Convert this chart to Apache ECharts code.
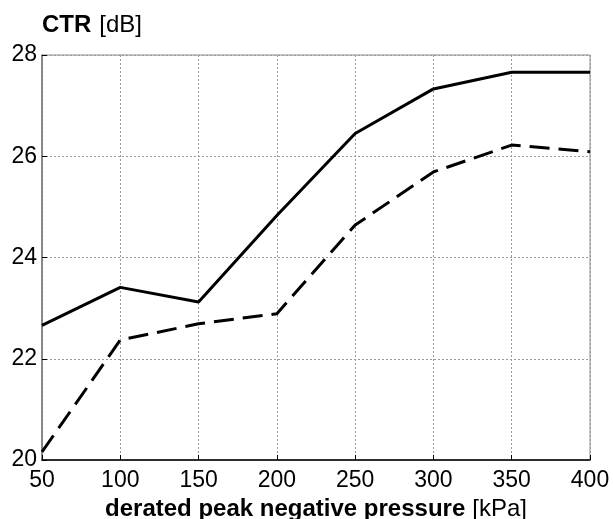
<!DOCTYPE html>
<html>
<head>
<meta charset="utf-8">
<script src="https://cdn.jsdelivr.net/npm/echarts@6/dist/echarts.min.js"></script>
<style>
  html, body { margin: 0; padding: 0; background: #fff; }
  #chart { width: 613px; height: 519px; }
</style>
</head>
<body>
<div id="chart"></div>
<script>
// pressure steps [kPa]
var pressure = [50, 100, 150, 200, 250, 300, 350, 400];
// CTR [dB], solid curve and dashed curve
var ctrSolid  = [22.66, 23.41, 23.12, 24.83, 26.45, 27.33, 27.66, 27.66];
var ctrDashed = [20.16, 22.37, 22.69, 22.89, 24.64, 25.69, 26.22, 26.09];

var chart = echarts.init(document.getElementById('chart'));
var font = 'Liberation Sans, Arial, sans-serif';

function pairs(ys) {
  return pressure.map(function (x, i) { return [x, ys[i]]; });
}

chart.setOption({
  backgroundColor: '#fff',
  animation: false,
  grid: {
    left: 42, right: 23, top: 55, bottom: 59,
    outerBoundsMode: 'none', containLabel: false,
    show: true, borderColor: '#888', borderWidth: 1
  },
  xAxis: {
    type: 'value', min: 50, max: 400, interval: 50,
    name: '{b|derated peak negative pressure}{n|[kPa]}',
    nameLocation: 'middle', nameGap: 36,
    nameTextStyle: {
      rich: {
        b: { fontFamily: font, fontSize: 24, fontWeight: 'bold', color: '#000' },
        n: { fontFamily: font, fontSize: 24, color: '#000', padding: [0, 0, 0, 7] }
      }
    },
    axisLine: { lineStyle: { color: '#000', width: 1.5 } },
    axisTick: { inside: true, length: 5, lineStyle: { color: '#000' } },
    axisLabel: { fontFamily: font, fontSize: 23, color: '#000', margin: 9 },
    splitLine: { show: true, lineStyle: { color: '#999', type: [2, 2], width: 1 } }
  },
  yAxis: {
    type: 'value', min: 20, max: 28, interval: 2,
    name: '{b|CTR}{n|[dB]}',
    nameLocation: 'end', nameGap: 18,
    nameTextStyle: {
      align: 'left',
      rich: {
        b: { fontFamily: font, fontSize: 24, fontWeight: 'bold', color: '#000' },
        n: { fontFamily: font, fontSize: 24, color: '#000', padding: [0, 0, 0, 8] }
      }
    },
    axisLine: { lineStyle: { color: '#777', width: 1.5 } },
    axisTick: { inside: true, length: 5, lineStyle: { color: '#000' } },
    axisLabel: { fontFamily: font, fontSize: 23, color: '#000', margin: 5 },
    splitLine: { show: true, lineStyle: { color: '#999', type: [2, 2], width: 1 } }
  },
  series: [
    {
      type: 'line', data: pairs(ctrSolid), showSymbol: false,
      lineStyle: { color: '#000', width: 3 }
    },
    {
      type: 'line', data: pairs(ctrDashed), showSymbol: false,
      lineStyle: { color: '#000', width: 3, type: [20, 9] }
    }
  ]
});
</script>
</body>
</html>
